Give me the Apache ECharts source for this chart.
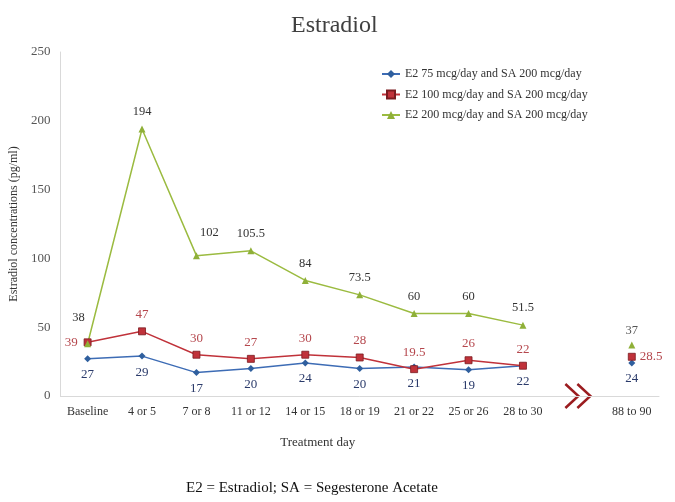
<!DOCTYPE html>
<html><head><meta charset="utf-8">
<script src="https://cdn.jsdelivr.net/npm/echarts@6/dist/echarts.min.js"></script>
<style>html,body{margin:0;padding:0;background:#fff}#c{width:675px;height:502px}</style>
</head><body><div id="c"></div>
<script>
var categories = ['Baseline','4 or 5','7 or 8','11 or 12','14 or 15','18 or 19','21 or 22','25 or 26','28 to 30','','88 to 90'];
var e2_75  = [27, 29, 17, 20, 24, 20, 21, 19, 22, null, 24];
var e2_100 = [39, 47, 30, 27, 30, 28, 19.5, 26, 22, null, 28.5];
var e2_200 = [38, 194, 102, 105.5, 84, 73.5, 60, 60, 51.5, null, 37];
var yTicks = [0, 50, 100, 150, 200, 250];
var seriesNames = ['E2 75 mcg/day and SA 200 mcg/day','E2 100 mcg/day and SA 200 mcg/day','E2 200 mcg/day and SA 200 mcg/day'];

var SERIF = '"Liberation Serif","DejaVu Serif",serif';
var chart = echarts.init(document.getElementById('c'));

function withLabels(arr, special) {
  return arr.map(function (v, i) {
    if (v === null) return null;
    var d = { value: v };
    if (special[i]) d.label = special[i];
    return d;
  });
}

var option = {
  backgroundColor: '#fff',
  animation: false,
  title: {
    text: 'Estradiol', left: 286, top: 9,
    textStyle: { fontFamily: SERIF, fontSize: 24, fontWeight: 'normal', color: '#404040' }
  },
  legend: {
    orient: 'vertical', left: 376, top: 63, itemGap: 8.5, itemWidth: 18, itemHeight: 10,
    textStyle: { fontFamily: SERIF, fontSize: 12, color: '#333' },
    data: seriesNames
  },
  grid: { left: 59, right: 16, top: 52, bottom: 106 },
  xAxis: {
    type: 'category', data: categories, boundaryGap: true,
    name: 'Treatment day', nameLocation: 'middle', nameGap: 40,
    nameTextStyle: { fontFamily: SERIF, fontSize: 13, color: '#333', padding: [0, 84, 0, 0] },
    axisLine: { lineStyle: { color: '#d9d9d9' } },
    axisTick: { show: false },
    axisLabel: { fontFamily: SERIF, fontSize: 12, color: '#333', margin: 10, interval: 0 }
  },
  yAxis: {
    type: 'value', min: yTicks[0], max: yTicks[yTicks.length - 1], interval: 50,
    name: 'Estradiol concentrations (pg/ml)', nameLocation: 'middle', nameGap: 32,
    nameTextStyle: { fontFamily: SERIF, fontSize: 12, color: '#333' },
    axisLine: { show: true, lineStyle: { color: '#d9d9d9' } },
    axisTick: { show: false },
    splitLine: { show: false },
    axisLabel: { fontFamily: SERIF, fontSize: 13, color: '#555', margin: 10 }
  },
  series: [
    {
      name: seriesNames[0], type: 'line', symbol: 'diamond', symbolSize: 7,
      color: '#3d6cb5', lineStyle: { width: 1.5, color: '#3d6cb5' },
      itemStyle: { color: '#2f5f9e' },
      label: { show: true, position: 'bottom', distance: 6, fontFamily: SERIF, fontSize: 13, color: '#2a3a6a' },
      data: withLabels(e2_75, {})
    },
    {
      name: seriesNames[1], type: 'line', symbol: 'rect', symbolSize: 7,
      color: '#c0323a', lineStyle: { width: 1.5, color: '#c0323a' },
      itemStyle: { color: '#c0323a', borderColor: '#7a1a1f', borderWidth: 0.8 },
      label: { show: true, position: 'top', distance: 6, fontFamily: SERIF, fontSize: 13, color: '#b5474d' },
      data: withLabels(e2_100, {
        0: { position: 'left', distance: 6 },
        10: { position: 'right', distance: 4 }
      })
    },
    {
      name: seriesNames[2], type: 'line', symbol: 'triangle', symbolSize: 7,
      color: '#9bbb40', lineStyle: { width: 1.5, color: '#9bbb40' },
      itemStyle: { color: '#8fb038' },
      label: { show: true, position: 'top', distance: 7, fontFamily: SERIF, fontSize: 12.5, color: '#333' },
      data: withLabels(e2_200, {
        0: { position: 'top', offset: [-9, -9] },
        2: { position: 'top', offset: [13, -6] },
        10: { color: '#555', distance: 4 }
      })
    }
  ]
};
chart.setOption(option);

// axis-break symbol in the empty category slot
var p = chart.convertToPixel({ xAxisIndex: 0, yAxisIndex: 0 }, [9, 0]);
var cx = p[0], cy = p[1];
function chevron(dx) {
  return {
    type: 'polyline',
    shape: { points: [[cx + dx - 7, cy - 12], [cx + dx + 6, cy], [cx + dx - 7, cy + 12]] },
    style: { stroke: '#9b1c1f', lineWidth: 2.5, fill: null }
  };
}
chart.setOption({
  graphic: [
    { type: 'rect', shape: { x: cx - 16, y: cy - 2, width: 32, height: 4 }, style: { fill: '#fff' } },
    chevron(-5), chevron(7),
    {
      type: 'text', x: 312, y: 488,
      style: { text: 'E2 = Estradiol; SA = Segesterone Acetate', font: '15px ' + SERIF, fill: '#111', align: 'center', verticalAlign: 'middle' }
    }
  ]
});
</script>
</body></html>
